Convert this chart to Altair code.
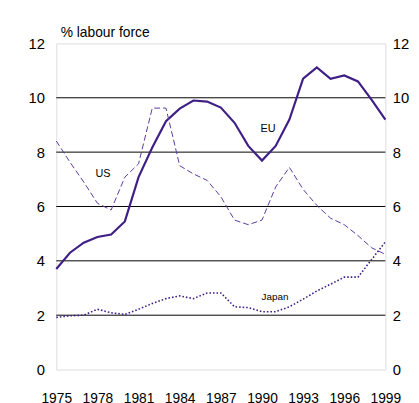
import altair as alt
import pandas as pd

years = list(range(1975, 2000))
eu = [3.7, 4.3, 4.67, 4.88, 4.97, 5.45, 7.08, 8.17, 9.14, 9.6, 9.9, 9.86, 9.64,
      9.08, 8.23, 7.69, 8.23, 9.2, 10.7, 11.12, 10.7, 10.82, 10.6, 9.92, 9.2]
us = [8.41, 7.63, 6.9, 6.12, 5.87, 7.08, 7.57, 9.62, 9.62, 7.5, 7.2, 6.96, 6.36,
      5.5, 5.33, 5.5, 6.72, 7.44, 6.63, 6.04, 5.57, 5.33, 4.93, 4.48, 4.24]
japan = [1.92, 1.98, 2.0, 2.22, 2.09, 2.03, 2.22, 2.43, 2.61, 2.71, 2.61, 2.82, 2.82,
         2.31, 2.28, 2.13, 2.13, 2.31, 2.59, 2.89, 3.14, 3.4, 3.4, 4.05, 4.7]

x_ticks = [1975, 1978, 1981, 1984, 1987, 1990, 1993, 1996, 1999]
y_ticks = [0, 2, 4, 6, 8, 10, 12]
grid_values = [2, 4, 6, 8, 10]

label_text = ["EU", "US", "Japan"]
label_year = [1990.45, 1978.4, 1990.95]
label_value = [8.85, 7.18, 2.65]
label_size = [11, 11, 10]

df = pd.DataFrame({
    "year": years * 3,
    "value": eu + us + japan,
    "series": ["EU"] * len(years) + ["US"] * len(years) + ["Japan"] * len(years),
})
grid_df = pd.DataFrame({"value": grid_values})
lab_df = pd.DataFrame({"year": label_year, "value": label_value,
                       "text": label_text, "size": label_size})

FONT = "Liberation Sans"
COLOR = "#3f1f86"

xscale = alt.Scale(domain=[1975, 1999], nice=False, zero=False)
yscale = alt.Scale(domain=[0, 12], nice=False)

x_enc = alt.X("year:Q", scale=xscale,
              axis=alt.Axis(values=x_ticks, format="d", grid=False, ticks=False,
                            domain=False, labelFontSize=14, labelPadding=22,
                            labelOverlap=False, labelFlush=False,
                            labelColor="#000", labelFont=FONT, title=None))
x_none = alt.X("year:Q", scale=xscale, axis=None)

y_left = alt.Y("value:Q", scale=yscale,
               axis=alt.Axis(values=y_ticks, grid=False, ticks=False, domain=False,
                             labelFontSize=15, labelPadding=12, labelColor="#000",
                             labelOverlap=False, labelFont=FONT, title="% labour force",
                             titleAngle=0, titleX=4, titleY=-11, titleAlign="left",
                             titleBaseline="middle", titleFontWeight="normal",
                             titleFontSize=14, titleFont=FONT, titleColor="#000"))

y_right = alt.Y("value:Q", scale=yscale,
                axis=alt.Axis(orient="right", values=y_ticks, grid=False, ticks=False,
                              domain=False, labelFontSize=15, labelPadding=7,
                              labelOverlap=False, labelColor="#000", labelFont=FONT,
                              title=None))
y_none = alt.Y("value:Q", scale=yscale, axis=None)

grid = alt.Chart(grid_df).mark_rule(color="#000", strokeWidth=1).encode(y=y_right)

eu_line = alt.Chart(df).transform_filter(alt.datum.series == "EU").mark_line(
    color=COLOR, strokeWidth=2.2).encode(x=x_enc, y=y_left)
us_line = alt.Chart(df).transform_filter(alt.datum.series == "US").mark_line(
    color="#5a3a9e", strokeWidth=1, strokeDash=[6, 3]).encode(x=x_none, y=y_none)
jp_line = alt.Chart(df).transform_filter(alt.datum.series == "Japan").mark_line(
    color=COLOR, strokeWidth=1.6, strokeDash=[1.6, 2]).encode(x=x_none, y=y_none)

labels = alt.Chart(lab_df).mark_text(font=FONT, color="#000", align="center",
                                     baseline="middle").encode(
    x=x_none,
    y=y_none,
    text="text:N",
    size=alt.Size("size:Q", scale=None, legend=None),
)

chart = alt.layer(grid, eu_line, us_line, jp_line, labels).resolve_axis(
    x="independent", y="independent"
).properties(
    width=334, height=331,
    autosize=alt.AutoSizeParams(type="none"),
    padding={"left": 49, "top": 33, "right": 26, "bottom": 31},
).configure_view(stroke="#777", strokeWidth=1.2).configure(font=FONT, background="white")

chart.save("out.html", embed_options={"renderer": "svg", "actions": False})
